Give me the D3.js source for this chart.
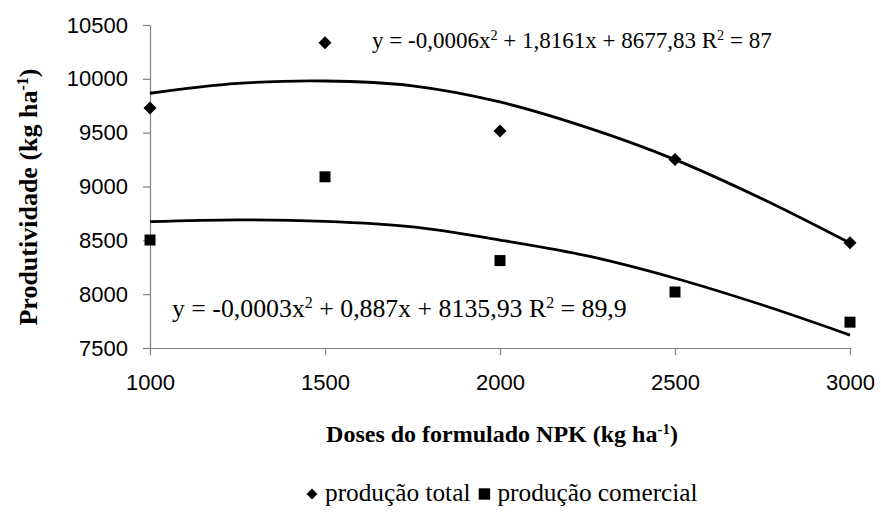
<!DOCTYPE html>
<html>
<head>
<meta charset="utf-8">
<script src="https://cdn.jsdelivr.net/npm/d3@7"></script>
<style>
  body { margin: 0; background: #fff; }
  svg { display: block; }
  .tick text { font-family: "Liberation Sans", Arial, sans-serif; font-size: 22px; fill: #000; }
  .serif { font-family: "Liberation Serif", "Times New Roman", serif; fill: #000; }
</style>
</head>
<body>
<svg id="chart" width="881" height="512"></svg>
<script>
// observed points
const doses = [1000, 1500, 2000, 2500, 3000];
const prodTotal = [9730, 10335, 9515, 9250, 8478];
const prodComercial = [8503, 9090, 8312, 8020, 7740];

// trend lines
const trendDoses = [1000, 1250, 1500, 1750, 2000, 2250, 2500, 2750, 3000];
const trendTotal = [9866, 9957, 9980, 9935, 9785, 9547, 9250, 8884, 8475];
const trendComercial = [8673, 8690, 8676, 8625, 8503, 8355, 8148, 7899, 7620];

const xTicks = [1000, 1500, 2000, 2500, 3000];
const yTicks = [7500, 8000, 8500, 9000, 9500, 10000, 10500];

const svg = d3.select('#chart');

const x = d3.scaleLinear().domain([1000, 3000]).range([150, 850]);
const y = d3.scaleLinear().domain([7500, 10500]).range([348, 25]);

// axes
const gy = svg.append('g')
  .attr('transform', 'translate(150,0)')
  .call(d3.axisLeft(y).tickValues(yTicks).tickFormat(d3.format('d'))
    .tickSize(7).tickSizeOuter(0).tickPadding(15));
const gx = svg.append('g')
  .attr('transform', 'translate(0,348)')
  .call(d3.axisBottom(x).tickValues(xTicks).tickFormat(d3.format('d'))
    .tickSize(7).tickSizeOuter(0).tickPadding(19));
[gx, gy].forEach(g => {
  g.select('.domain').attr('stroke', '#808080').attr('stroke-width', 1.2);
  g.selectAll('.tick line').attr('stroke', '#808080').attr('stroke-width', 1.2);
});

// trend lines
const line = d3.line()
  .x(d => x(d[0]))
  .y(d => y(d[1]))
  .curve(d3.curveCatmullRom);

[trendTotal, trendComercial].forEach(vals => {
  svg.append('path')
    .datum(trendDoses.map((d, i) => [d, vals[i]]))
    .attr('d', line)
    .attr('fill', 'none')
    .attr('stroke', '#000')
    .attr('stroke-width', 2.8);
});

// markers
const diamond = d3.symbol().type(d3.symbolSquare).size(85);
const square = d3.symbol().type(d3.symbolSquare).size(121);

svg.append('g').selectAll('path')
  .data(doses.map((d, i) => [d, prodTotal[i]]))
  .join('path')
  .attr('d', diamond)
  .attr('transform', d => `translate(${x(d[0])},${y(d[1])}) rotate(45)`)
  .attr('fill', '#000');

svg.append('g').selectAll('path')
  .data(doses.map((d, i) => [d, prodComercial[i]]))
  .join('path')
  .attr('d', square)
  .attr('transform', d => `translate(${x(d[0])},${y(d[1])})`)
  .attr('fill', '#000');

// text with superscripts: parts = [[text, isSup], ...]
function richText(sel, parts) {
  parts.forEach(p => {
    if (p[1]) {
      sel.append('tspan').text(p[0])
        .attr('font-size', '0.62em').attr('dy', '-0.55em');
    } else {
      const t = sel.append('tspan').text(p[0]);
      if (sel.selectAll('tspan').size() > 1) t.attr('dy', '0.341em');
    }
  });
  return sel;
}

// equations
richText(svg.append('text').attr('class', 'serif')
  .attr('x', 372).attr('y', 48).attr('font-size', 23),
  [['y = -0,0006x', 0], ['2', 1], [' + 1,8161x + 8677,83 R', 0], ['2', 1], [' = 87', 0]]);

richText(svg.append('text').attr('class', 'serif')
  .attr('x', 172).attr('y', 317).attr('font-size', 25.8),
  [['y = -0,0003x', 0], ['2', 1], [' + 0,887x + 8135,93 R', 0], ['2', 1], [' = 89,9', 0]]);

// axis titles
richText(svg.append('text').attr('class', 'serif')
  .attr('font-weight', 'bold').attr('font-size', 24)
  .attr('text-anchor', 'middle')
  .attr('x', 502).attr('y', 442),
  [['Doses do formulado NPK (kg ha', 0], ['-1', 1], [')', 0]]);

richText(svg.append('text').attr('class', 'serif')
  .attr('font-weight', 'bold').attr('font-size', 26)
  .attr('text-anchor', 'middle')
  .attr('transform', 'translate(37,197) rotate(-90)'),
  [['Produtividade (kg ha', 0], ['-1', 1], [')', 0]]);

// legend
const legendItems = ['produção total', 'produção comercial'];
const leg = svg.append('g').attr('transform', 'translate(0,501)');
let lx = 306;
legendItems.forEach((name, i) => {
  leg.append('path')
    .attr('d', i === 0 ? d3.symbol().type(d3.symbolSquare).size(60)
                       : d3.symbol().type(d3.symbolSquare).size(130))
    .attr('transform', `translate(${lx + 6},-7)` + (i === 0 ? ' rotate(45)' : ''))
    .attr('fill', '#000');
  const t = leg.append('text').attr('class', 'serif')
    .attr('font-size', 25.3).attr('x', lx + 19).text(name);
  lx += 19 + t.node().getComputedTextLength() + 8;
});
</script>
</body>
</html>
